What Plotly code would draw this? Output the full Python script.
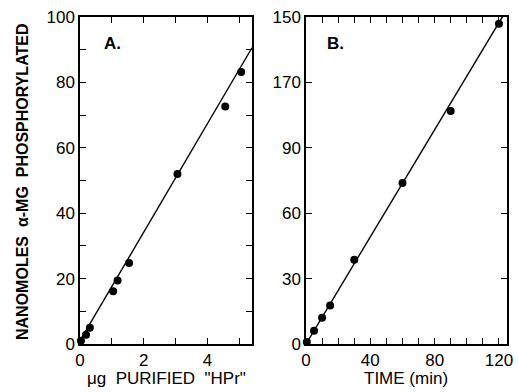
import plotly.graph_objects as go

# Panel A data
a_x = [0.03, 0.19, 0.31, 1.04, 1.18, 1.54, 3.06, 4.56, 5.06]
a_y = [1.0, 2.8, 5.0, 16.1, 19.4, 24.8, 52.0, 72.6, 83.2]
a_fit_x = [0.0, 5.4]
a_fit_y = [1.0, 90.6]

# Panel B data
b_x = [0.5, 5, 10, 15, 30, 60, 90, 120]
b_y = [0.9, 6.1, 12.0, 17.7, 38.6, 73.8, 106.9, 146.9]
b_fit_x = [0.0, 122.5]
b_fit_y = [0.0, 150.5]

a_xticks = [0, 2, 4]
a_yticks = [0, 20, 40, 60, 80, 100]
b_xticks = [0, 40, 80, 120]
b_yticks = [0, 30, 60, 90, 120, 150]
b_yticktext = ["0", "30", "60", "90", "170", "150"]

W, H = 518, 392
FONT = "Liberation Sans, Arial, sans-serif"
fig = go.Figure()

line_style = dict(color="black", width=1.4)
marker_style = dict(color="black", size=8)

fig.add_trace(go.Scatter(x=a_fit_x, y=a_fit_y, mode="lines", line=line_style,
                         xaxis="x", yaxis="y", showlegend=False))
fig.add_trace(go.Scatter(x=a_x, y=a_y, mode="markers", marker=marker_style,
                         xaxis="x", yaxis="y", showlegend=False, cliponaxis=False))
fig.add_trace(go.Scatter(x=b_fit_x, y=b_fit_y, mode="lines", line=line_style,
                         xaxis="x2", yaxis="y2", showlegend=False))
fig.add_trace(go.Scatter(x=b_x, y=b_y, mode="markers", marker=marker_style,
                         xaxis="x2", yaxis="y2", showlegend=False, cliponaxis=False))

ydom = [1 - 344 / H, 1 - 17 / H]
common = dict(showgrid=False, zeroline=False, showline=True, linecolor="black",
              linewidth=1.5, mirror="allticks", ticks="inside", ticklen=6,
              tickwidth=1.3, tickcolor="black", automargin=False,
              tickfont=dict(family=FONT, size=17, color="black"))

fig.update_layout(
    width=W, height=H,
    margin=dict(l=0, r=0, t=0, b=0, pad=0, autoexpand=False),
    paper_bgcolor="white", plot_bgcolor="white",
    showlegend=False,
    xaxis=dict(domain=[80 / W, 252 / W], range=[0, 5.4], anchor="y",
               tickvals=a_xticks,
               minor=dict(dtick=1, tick0=0, ticks="inside", ticklen=6,
                          tickwidth=1.3, tickcolor="black"),
               **common),
    yaxis=dict(domain=ydom, range=[0, 100], anchor="x",
               tickvals=a_yticks,
               minor=dict(dtick=10, tick0=0, ticks="inside", ticklen=6,
                          tickwidth=1.3, tickcolor="black"),
               **common),
    xaxis2=dict(domain=[306 / W, 507 / W], range=[0, 125], anchor="y2",
                tickvals=b_xticks,
                minor=dict(dtick=10, tick0=0, ticks="inside", ticklen=6,
                           tickwidth=1.3, tickcolor="black"),
                **common),
    yaxis2=dict(domain=ydom, range=[0, 150], anchor="x2",
                tickvals=b_yticks, ticktext=b_yticktext,
                **common),
)

ann_font = dict(family=FONT, size=17, color="black")
def ann(x, y, text, **kw):
    fig.add_annotation(x=x / W, y=1 - y / H, xref="paper", yref="paper",
                       xanchor="center", yanchor="middle", text=text,
                       showarrow=False, **kw)

ann(22, 182, "<b>NANOMOLES  α-MG  PHOSPHORYLATED</b>", textangle=-90,
    font=dict(family=FONT, size=16, color="black"))
ann(166, 378, "μg  PURIFIED  \"HPr\"", font=ann_font)
ann(406, 378, "TIME (min)", font=ann_font)
ann(112, 43, "<b>A.</b>", font=ann_font)
ann(335, 43, "<b>B.</b>", font=ann_font)

fig.write_html("out.html")
